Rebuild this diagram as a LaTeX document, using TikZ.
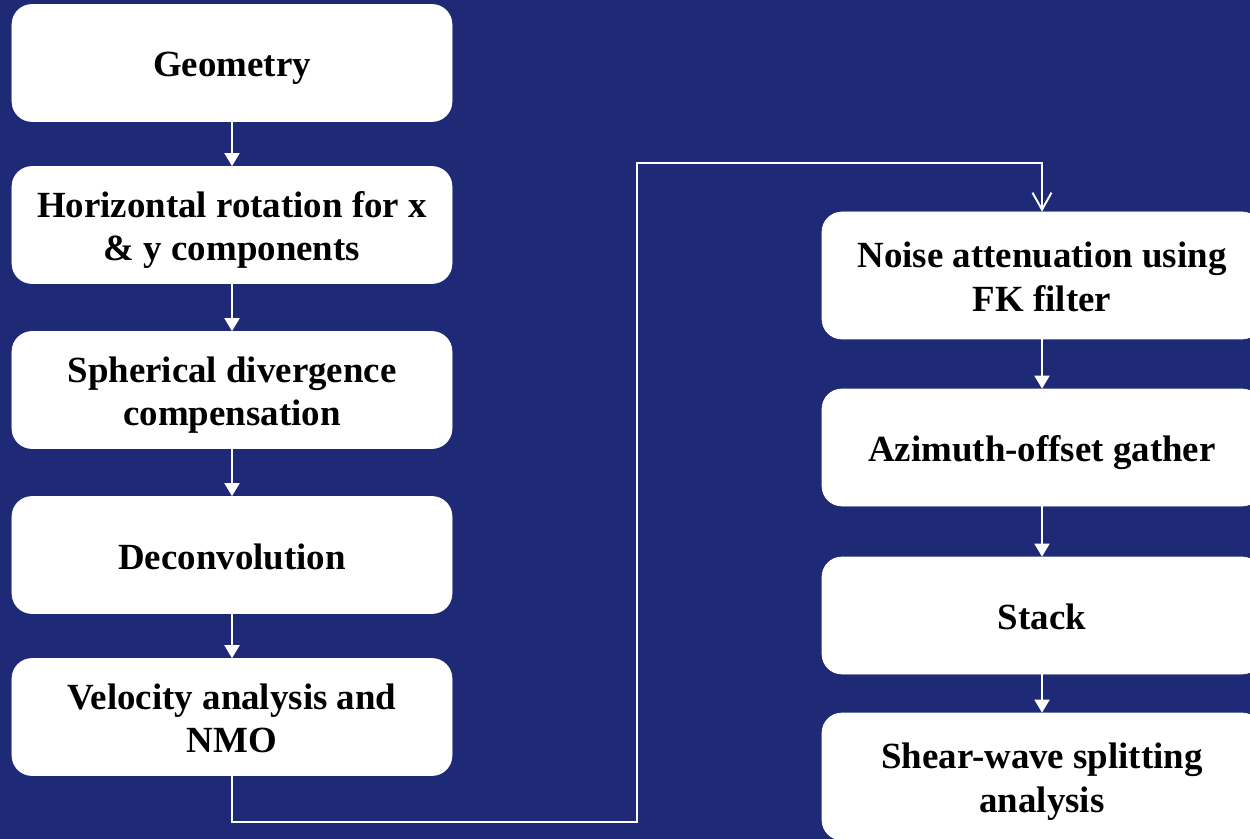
\documentclass[tikz,border=0pt]{standalone}
\usepackage{fontspec}
\setmainfont{Liberation Serif}
\usepackage{tikz}
\usetikzlibrary{arrows.meta,positioning}
\definecolor{bgblue}{RGB}{31,42,119}
% fixed line height/depth so all boxes set their text alike
\newcommand{\upstrut}{\rule{0pt}{0.72cm}}
\newcommand{\downstrut}{\rule[-0.16cm]{0pt}{0.16cm}}

\begin{document}
\begin{tikzpicture}[node distance=3.3cm,on grid]
      \tikzset{stepbox/.style={draw=white,fill=white,rectangle,rounded corners=0.4cm,
          minimum width=8.8cm,minimum height=2.34cm,align=center,
          font=\fontsize{21}{25}\selectfont\bfseries}}
      \tikzset{flow/.style={draw=white,line width=1.1pt,-{Triangle[width=0.3cm,length=0.26cm,fill=white]}}}
      \tikzset{loopback/.style={draw=white,line width=1.1pt,-{Straight Barb[width=0.38cm,length=0.34cm]}}}

      \fill[bgblue] (0,0) rectangle (25,-16.78);
      \clip (0,0) rectangle (25,-16.78);

      \node[stepbox] (geom) at (4.64,-1.26) {\upstrut Geometry\downstrut};
      \node[stepbox] (rot) [below = 3.24cm of geom] {\upstrut Horizontal rotation for x\\ \& y components\downstrut};
      \node[stepbox] (sph) [below = 3.3cm of rot] {\upstrut Spherical divergence\\ compensation\downstrut};
      \node[stepbox] (decon) [below = 3.3cm of sph] {\upstrut Deconvolution\downstrut};
      \node[stepbox] (velo) [below = 3.24cm of decon] {\upstrut Velocity analysis and\\ NMO\downstrut};

      \node[stepbox,minimum height=2.54cm] (noise) at (20.84,-5.51) {\upstrut Noise attenuation using\\ FK filter\downstrut};
      \node[stepbox] (azim) [below = 3.44cm of noise] {\upstrut Azimuth-offset gather\downstrut};
      \node[stepbox] (stack) [below = 3.36cm of azim] {\upstrut Stack\downstrut};
      \node[stepbox,minimum height=2.54cm] (shear) [below = 3.22cm of stack] {\upstrut Shear-wave splitting\\ analysis\downstrut};

      \coordinate (turnlow) at (12.74,-16.44);
      \coordinate (turnhigh) at (12.74,-3.26);

      \path[flow] (geom) edge (rot)
                  (rot) edge (sph)
                  (sph) edge (decon)
                  (decon) edge (velo)
                  (noise) edge (azim)
                  (azim) edge (stack)
                  (stack) edge (shear);

      \draw[loopback] (velo.south) |- (turnlow) -- (turnhigh) -| (noise.north);
    \end{tikzpicture}
\end{document}
